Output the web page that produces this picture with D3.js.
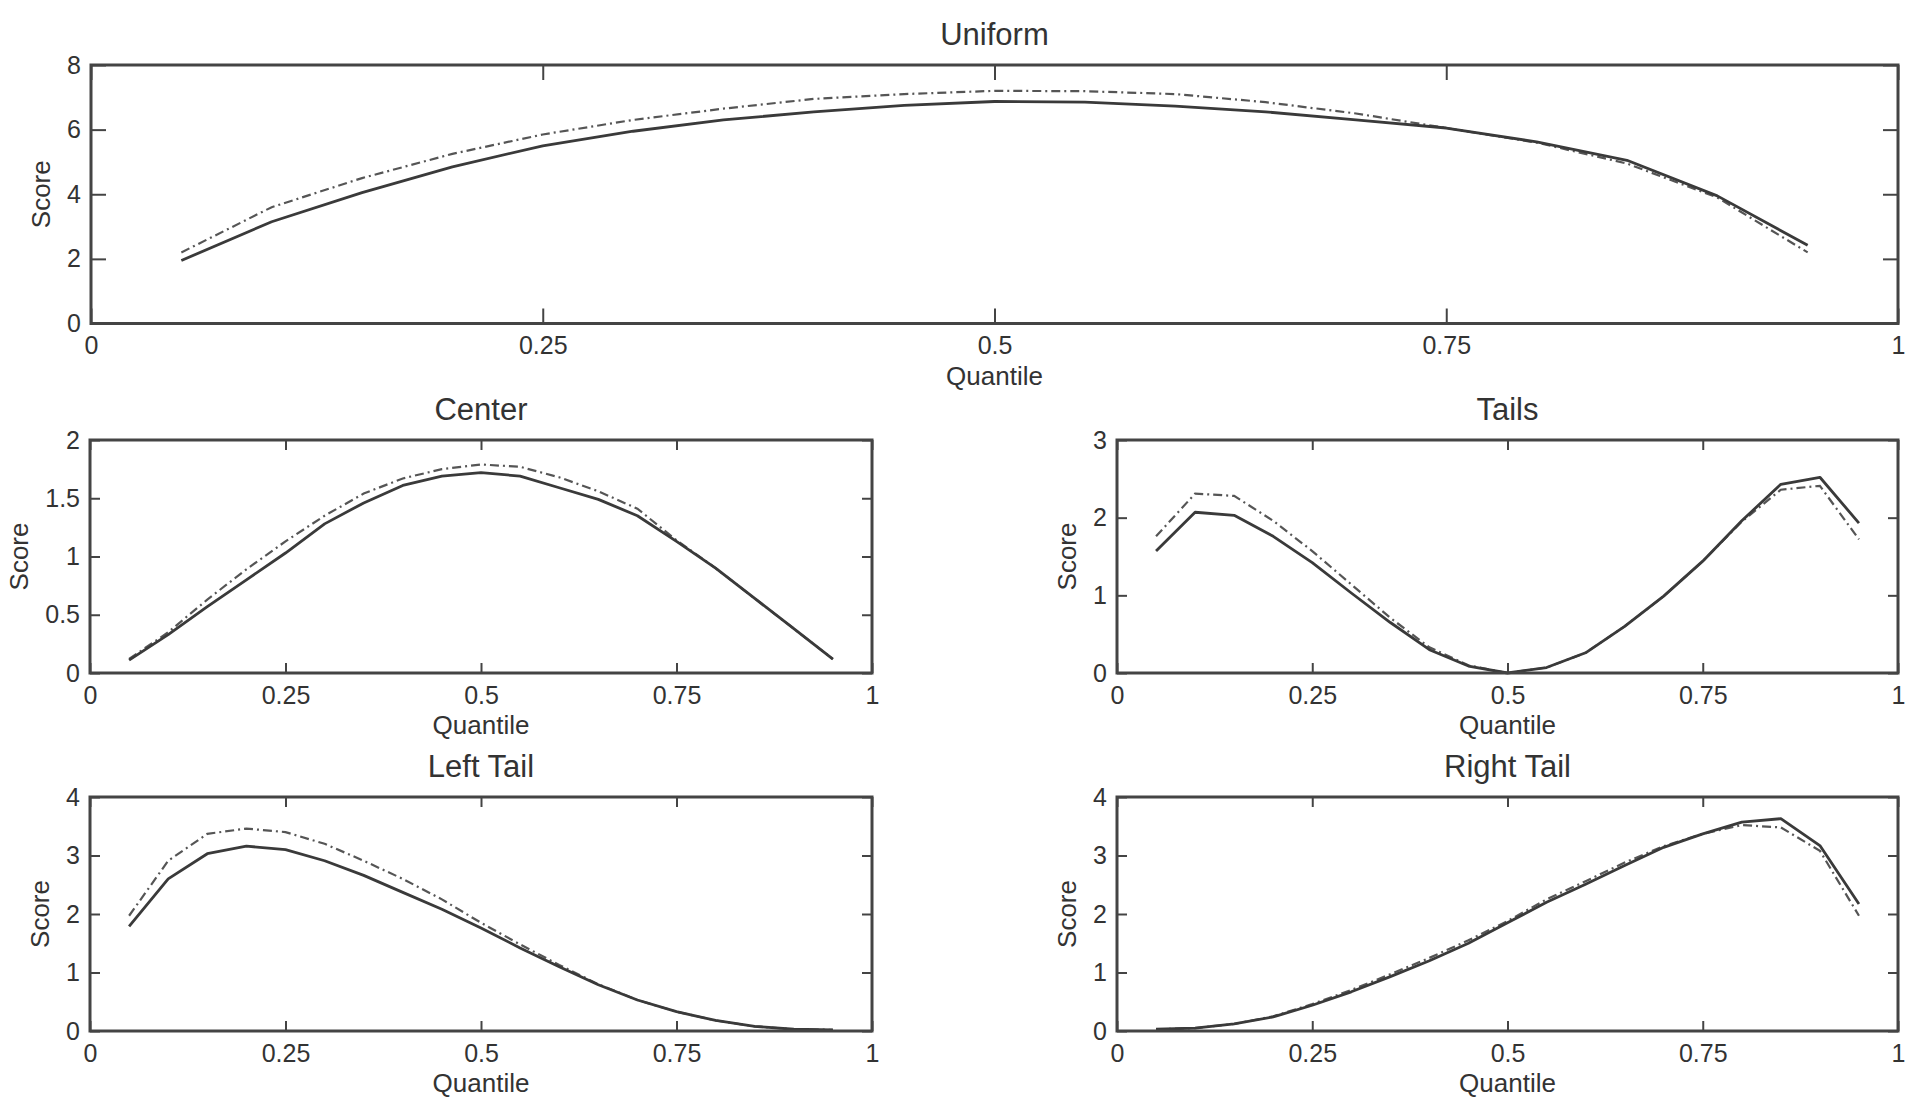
<!DOCTYPE html>
<html>
<head>
<meta charset="utf-8">
<script src="https://cdn.jsdelivr.net/npm/d3@7"></script>
<style>
  html, body { margin: 0; padding: 0; background: #ffffff; }
  svg { display: block; }
  text { font-family: "Liberation Sans", Arial, Helvetica, sans-serif; fill: #333; }
</style>
</head>
<body>
<svg id="chart" width="1923" height="1111"></svg>
<script>
// ---------------- DATA ----------------
const quantiles = [0.05, 0.10, 0.15, 0.20, 0.25, 0.30, 0.35, 0.40, 0.45, 0.50,
                   0.55, 0.60, 0.65, 0.70, 0.75, 0.80, 0.85, 0.90, 0.95];

const uniformSolid = [1.95, 3.15, 4.05, 4.85, 5.50, 5.95, 6.30, 6.55, 6.75, 6.87,
                      6.85, 6.73, 6.55, 6.30, 6.05, 5.62, 5.05, 3.95, 2.42];
const uniformDash  = [2.20, 3.60, 4.50, 5.25, 5.85, 6.30, 6.65, 6.95, 7.10, 7.20,
                      7.19, 7.10, 6.85, 6.50, 6.05, 5.60, 4.95, 3.90, 2.20];

const centerSolid = [0.11, 0.33, 0.57, 0.80, 1.03, 1.28, 1.46, 1.61, 1.69, 1.72,
                     1.69, 1.59, 1.49, 1.35, 1.13, 0.90, 0.64, 0.38, 0.12];
const centerDash  = [0.12, 0.35, 0.63, 0.89, 1.13, 1.35, 1.54, 1.67, 1.75, 1.79,
                     1.77, 1.68, 1.56, 1.41, 1.14, 0.90, 0.64, 0.38, 0.12];

const tailsSolid = [1.57, 2.07, 2.03, 1.76, 1.42, 1.03, 0.65, 0.30, 0.09, 0.00,
                    0.07, 0.26, 0.60, 0.99, 1.44, 1.96, 2.43, 2.52, 1.93];
const tailsDash  = [1.76, 2.31, 2.28, 1.96, 1.57, 1.14, 0.71, 0.33, 0.10, 0.00,
                    0.07, 0.26, 0.60, 0.99, 1.44, 1.95, 2.36, 2.41, 1.72];

const leftTailSolid = [1.79, 2.60, 3.03, 3.16, 3.10, 2.91, 2.66, 2.37, 2.08, 1.76,
                       1.42, 1.10, 0.79, 0.53, 0.33, 0.18, 0.08, 0.03, 0.02];
const leftTailDash  = [1.97, 2.91, 3.37, 3.46, 3.40, 3.20, 2.91, 2.60, 2.25, 1.85,
                       1.48, 1.13, 0.80, 0.53, 0.33, 0.18, 0.08, 0.03, 0.02];

const rightTailSolid = [0.03, 0.05, 0.12, 0.24, 0.44, 0.67, 0.93, 1.20, 1.50, 1.85,
                        2.20, 2.51, 2.83, 3.14, 3.37, 3.57, 3.63, 3.17, 2.17];
const rightTailDash  = [0.03, 0.05, 0.12, 0.25, 0.46, 0.70, 0.97, 1.25, 1.55, 1.88,
                        2.25, 2.56, 2.88, 3.16, 3.37, 3.52, 3.48, 3.08, 1.97];

const xTickValues = [0, 0.25, 0.5, 0.75, 1];
const xTickLabels = ["0", "0.25", "0.5", "0.75", "1"];

const uniformYTicks = [0, 2, 4, 6, 8];
const centerYTicks  = [0, 0.5, 1, 1.5, 2];
const tailsYTicks   = [0, 1, 2, 3];
const leftTailYTicks  = [0, 1, 2, 3, 4];
const rightTailYTicks = [0, 1, 2, 3, 4];

const panelTitles = ["Uniform", "Center", "Tails", "Left Tail", "Right Tail"];
const xAxisLabel = "Quantile";
const yAxisLabel = "Score";

// ---------------- LAYOUT ----------------
const panels = [
  { title: panelTitles[0], solid: uniformSolid, dash: uniformDash, yTicks: uniformYTicks,
    x0: 91, x1: 1898, y0: 65, y1: 323.5, tick: 15 },
  { title: panelTitles[1], solid: centerSolid, dash: centerDash, yTicks: centerYTicks,
    x0: 90, x1: 872, y0: 440, y1: 673, tick: 10 },
  { title: panelTitles[2], solid: tailsSolid, dash: tailsDash, yTicks: tailsYTicks,
    x0: 1117, x1: 1898, y0: 440, y1: 673, tick: 10 },
  { title: panelTitles[3], solid: leftTailSolid, dash: leftTailDash, yTicks: leftTailYTicks,
    x0: 90, x1: 872, y0: 797, y1: 1031, tick: 10 },
  { title: panelTitles[4], solid: rightTailSolid, dash: rightTailDash, yTicks: rightTailYTicks,
    x0: 1117, x1: 1898, y0: 797, y1: 1031, tick: 10 }
];

const svg = d3.select("#chart");
const fmtY = d => String(d);

panels.forEach(p => {
  const x = d3.scaleLinear().domain([0, 1]).range([p.x0, p.x1]);
  const yMax = p.yTicks[p.yTicks.length - 1];
  const y = d3.scaleLinear().domain([0, yMax]).range([p.y1, p.y0]);
  const g = svg.append("g");

  // lines
  const line = d3.line().x((d, i) => x(quantiles[i])).y(d => y(d));
  g.append("path").datum(p.dash).attr("d", line)
    .attr("fill", "none").attr("stroke", "#555").attr("stroke-width", 2.2)
    .attr("stroke-dasharray", "9,4,2,4");
  g.append("path").datum(p.solid).attr("d", line)
    .attr("fill", "none").attr("stroke", "#3a3a3a").attr("stroke-width", 2.8)
    .attr("stroke-linejoin", "round");

  // axes (inward ticks on all four sides)
  const bottom = g.append("g").attr("transform", `translate(0,${p.y1})`)
    .call(d3.axisBottom(x).tickValues(xTickValues)
      .tickFormat((d, i) => xTickLabels[i])
      .tickSizeInner(-p.tick).tickSizeOuter(0).tickPadding(13));
  const top = g.append("g").attr("transform", `translate(0,${p.y0})`)
    .call(d3.axisTop(x).tickValues(xTickValues).tickFormat("")
      .tickSizeInner(-p.tick).tickSizeOuter(0));
  const left = g.append("g").attr("transform", `translate(${p.x0},0)`)
    .call(d3.axisLeft(y).tickValues(p.yTicks).tickFormat(fmtY)
      .tickSizeInner(-p.tick).tickSizeOuter(0).tickPadding(10));
  const right = g.append("g").attr("transform", `translate(${p.x1},0)`)
    .call(d3.axisRight(y).tickValues(p.yTicks).tickFormat("")
      .tickSizeInner(-p.tick).tickSizeOuter(0));

  [bottom, top, left, right].forEach(a => {
    a.select(".domain").remove();
    a.selectAll(".tick line").attr("stroke", "#444").attr("stroke-width", 2);
    a.selectAll(".tick text").attr("font-size", 25).attr("fill", "#333")
      .attr("font-family", "Liberation Sans, Arial, sans-serif");
  });

  // box
  g.append("rect").attr("x", p.x0).attr("y", p.y0)
    .attr("width", p.x1 - p.x0).attr("height", p.y1 - p.y0)
    .attr("fill", "none").attr("stroke", "#444").attr("stroke-width", 3);

  // title
  g.append("text").attr("x", (p.x0 + p.x1) / 2).attr("y", p.y0 - 20)
    .attr("text-anchor", "middle").attr("font-size", 31).text(p.title);

  // x label
  g.append("text").attr("x", (p.x0 + p.x1) / 2).attr("y", p.y1 + 61)
    .attr("text-anchor", "middle").attr("font-size", 26).text(xAxisLabel);

  // y label: placed left of the widest y tick label
  let minX = p.x0;
  left.selectAll(".tick text").each(function () {
    const b = this.getBBox();
    const m = this.getCTM();
    const lx = b.x + (m ? m.e : 0);
    if (lx < minX) minX = lx;
  });
  const cx = minX - 26;
  const cy = (p.y0 + p.y1) / 2;
  g.append("text").attr("transform", `translate(${cx},${cy}) rotate(-90)`)
    .attr("text-anchor", "middle").attr("dy", "0.35em")
    .attr("font-size", 26).text(yAxisLabel);
});
</script>
</body>
</html>
